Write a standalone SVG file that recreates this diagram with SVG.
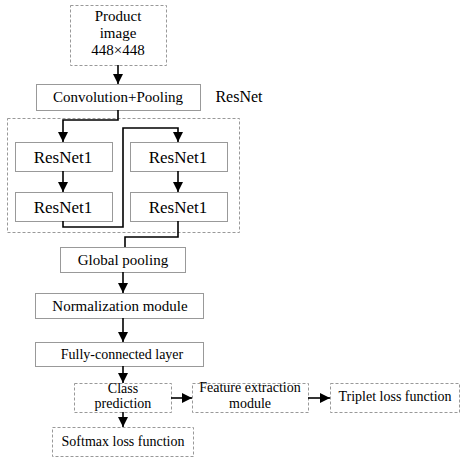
<svg xmlns="http://www.w3.org/2000/svg" width="465" height="463" viewBox="0 0 465 463">
<defs>
<marker id="arr" viewBox="0 0 10 10" refX="10" refY="5" markerWidth="10" markerHeight="10" markerUnits="userSpaceOnUse" orient="auto">
<path d="M0,0 L10,5 L0,10 z" fill="#000"/>
</marker>
</defs>
<style>
.box{fill:#fff;stroke:#999;stroke-width:1}
.dbox{fill:#fff;stroke:#999;stroke-width:1;stroke-dasharray:3,2}
.cont{fill:none;stroke:#999;stroke-width:1;stroke-dasharray:3,2}
text{fill:#000;text-anchor:middle}
.t15{font-size:15px}
.t14{font-size:14px}
.t16{font-size:16px}
.t17{font-size:17px}
.con{fill:none;stroke:#000;stroke-width:1.6}
</style>
<g font-family="'Liberation Serif', 'Times New Roman', 'DejaVu Serif', serif">
<rect class="cont" x="7.5" y="118.5" width="232" height="114"/>
<g id="product">
<rect class="dbox" x="70.5" y="5.5" width="96" height="60"/>
<text class="t15" x="118" y="21">Product</text>
<text class="t15" x="118" y="38">image</text>
<text class="t15" x="118" y="55">448×448</text>
</g>
<g id="conv">
<rect class="box" x="36.5" y="84.5" width="164" height="26"/>
<text class="t15" x="118" y="102">Convolution+Pooling</text>
</g>
<g id="resnet-label">
<text class="t16" x="239" y="102">ResNet</text>
</g>
<g id="r1a">
<rect class="box" x="15.5" y="142.5" width="97" height="29"/>
<text class="t17" x="63" y="163">ResNet1</text>
</g>
<g id="r1b">
<rect class="box" x="15.5" y="192.5" width="97" height="29"/>
<text class="t17" x="63" y="213">ResNet1</text>
</g>
<g id="r2a">
<rect class="box" x="130.5" y="142.5" width="97" height="29"/>
<text class="t17" x="178" y="163">ResNet1</text>
</g>
<g id="r2b">
<rect class="box" x="130.5" y="192.5" width="97" height="29"/>
<text class="t17" x="178" y="213">ResNet1</text>
</g>
<g id="gpool">
<rect class="box" x="60.5" y="247.5" width="125" height="25"/>
<text class="t15" x="123" y="265">Global pooling</text>
</g>
<g id="norm">
<rect class="box" x="35.5" y="293.5" width="168" height="25"/>
<text class="t15" x="120" y="311">Normalization module</text>
</g>
<g id="fc">
<rect class="box" x="35.5" y="342.5" width="168" height="24"/>
<text class="t14" x="122" y="359">Fully-connected layer</text>
</g>
<g id="classpred">
<rect class="dbox" x="74.5" y="383.5" width="97" height="29"/>
<text class="t14" x="123" y="393">Class</text>
<text class="t14" x="123" y="408">prediction</text>
</g>
<g id="feature">
<rect class="dbox" x="192.5" y="383.5" width="116" height="29"/>
<text class="t14" x="250" y="392">Feature extraction</text>
<text class="t14" x="250" y="408">module</text>
</g>
<g id="triplet">
<rect class="dbox" x="330.5" y="383.5" width="129" height="29"/>
<text class="t14" x="395" y="401">Triplet loss function</text>
</g>
<g id="softmax">
<rect class="dbox" x="52.5" y="427.5" width="141" height="29"/>
<text class="t14" x="123" y="446">Softmax loss function</text>
</g>
</g>
<g id="connectors">
<path class="con" d="M118,65 V84" marker-end="url(#arr)"/>
<path class="con" d="M118,110 V120 H63 V142" marker-end="url(#arr)"/>
<path class="con" d="M63,171 V192" marker-end="url(#arr)"/>
<path class="con" d="M63,221 V227 H123 V128 H178 V142" marker-end="url(#arr)"/>
<path class="con" d="M178,171 V192" marker-end="url(#arr)"/>
<path class="con" d="M178,221 V237 H125 V247"/>
<path class="con" d="M123,272 V293" marker-end="url(#arr)"/>
<path class="con" d="M123,318 V342" marker-end="url(#arr)"/>
<path class="con" d="M123,366 V383" marker-end="url(#arr)"/>
<path class="con" d="M171,398 H192" marker-end="url(#arr)"/>
<path class="con" d="M308,398 H330" marker-end="url(#arr)"/>
<path class="con" d="M123,412 V427" marker-end="url(#arr)"/>
</g>
</svg>
